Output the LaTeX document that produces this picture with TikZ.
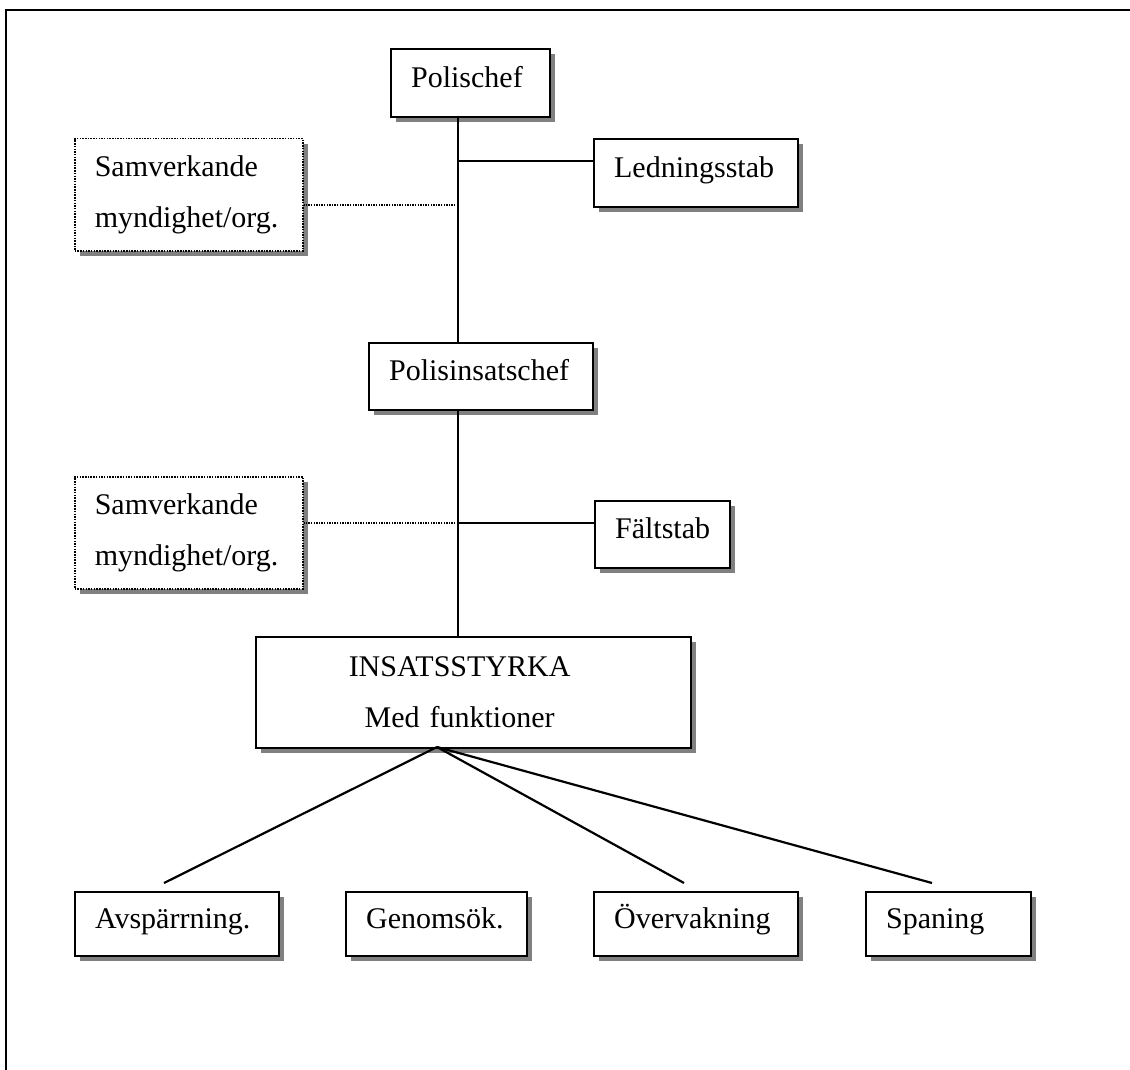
\documentclass[tikz,border=0pt]{standalone}
\usepackage{fontspec}
\setmainfont{Liberation Serif}
\usetikzlibrary{shadows}
\definecolor{shadowgray}{HTML}{808080}
\begin{document}
\begin{tikzpicture}[x=1pt,y=-1pt,
  every node/.style={font=\fontsize{30}{51}\selectfont},
  boxbase/.style={anchor=north west, fill=white, line width=2.2pt,
    inner xsep=20pt, inner ysep=0pt, align=left,
    drop shadow={shadow xshift=5pt,shadow yshift=-5pt,fill=shadowgray,opacity=1}},
  orgbox/.style={boxbase, draw, text height=20pt, text depth=12pt},
  partbox/.style={boxbase, draw=black, line width=1.5pt, dash pattern=on 1.5pt off 1.2pt},
  link/.style={line width=2.2pt},
  partlink/.style={line width=1.4pt, dash pattern=on 1.4pt off 1.2pt}
]
% page area
\useasboundingbox[fill=white] (0,0) rectangle (1130,1070);
\draw[line width=2.2pt] (6,1070) -- (6,10) -- (1130,10);

% command chain
\node[orgbox, minimum width=159pt, minimum height=68pt, text width=119pt] (pc) at (390,48) {Polischef};
\node[orgbox, minimum width=204pt, minimum height=68pt, text width=164pt] (ls) at (593,138) {Ledningsstab};
\node[partbox, minimum width=226pt, minimum height=112pt, text width=188pt] (sam1) at (74,138) {Samverkande\\myndighet/org.};
\node[orgbox, minimum width=224pt, minimum height=67pt, text width=184pt] (pic) at (368,342) {Polisinsatschef};
\node[partbox, minimum width=226pt, minimum height=112pt, text width=188pt] (sam2) at (74,476) {Samverkande\\myndighet/org.};
\node[orgbox, minimum width=135pt, minimum height=67pt, text width=95pt] (fs) at (594,500) {Fältstab};
\node[boxbase, draw, minimum width=435pt, minimum height=111pt, text width=395pt] (ins) at (255,636)
  {\makebox[367pt]{INSATSSTYRKA}\\\makebox[367pt]{Med funktioner}};

% functions
\node[orgbox, minimum width=204pt, minimum height=64pt, text width=164pt] (av) at (74,891) {Avspärrning.};
\node[orgbox, minimum width=181pt, minimum height=64pt, text width=141pt] (ge) at (345,891) {Genomsök.};
\node[orgbox, minimum width=204pt, minimum height=64pt, text width=164pt] (ov) at (593,891) {Övervakning};
\node[orgbox, minimum width=165pt, minimum height=64pt, text width=125pt] (sp) at (865,891) {Spaning};

% trunk and branch points
\coordinate (tx) at (458,0);
\coordinate (j1) at (458,161);
\coordinate (j2) at (458,205);
\coordinate (j3) at (458,523);
\coordinate (apex) at (437,747);
\coordinate (e1) at (164,883);
\coordinate (e2) at (684,883);
\coordinate (e3) at (932,883);

\draw[link] (pc.south -| tx) -- (pic.north -| tx);
\draw[link] (pic.south -| tx) -- (ins.north -| tx);
\draw[link] (j1) -- (ls.west |- j1);
\draw[partlink] (j2) -- (sam1.east |- j2);
\draw[link] (j3) -- (fs.west |- j3);
\draw[partlink] (j3) -- (sam2.east |- j3);

\draw[link] (apex) -- (e1);
\draw[link] (apex) -- (e2);
\draw[link] (apex) -- (e3);
\end{tikzpicture}
\end{document}
